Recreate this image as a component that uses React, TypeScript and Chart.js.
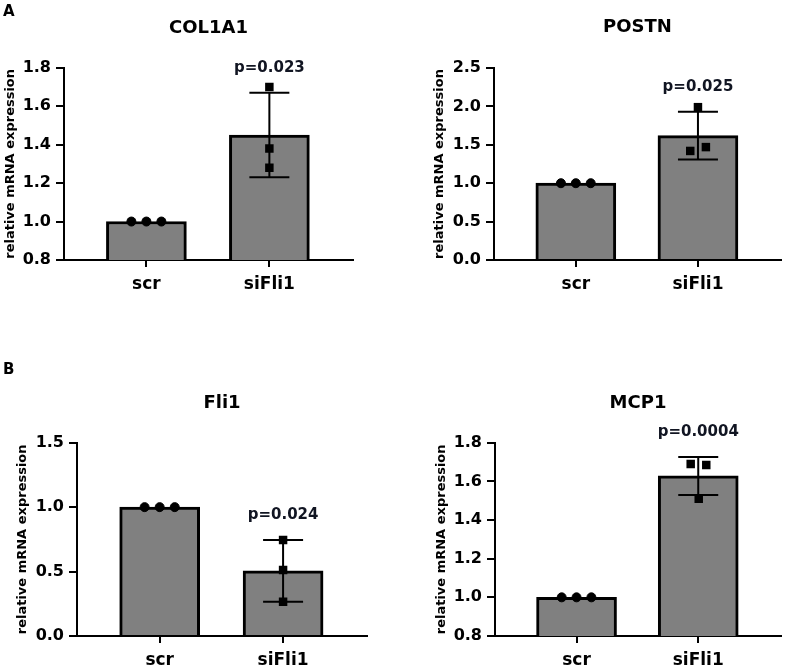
import React, { useEffect, useRef } from 'react';
import { Chart, registerables } from 'chart.js';

Chart.register(...registerables);

// ---------- data ----------
const categories = ['scr', 'siFli1'];
const scrJitter = [-0.122, 0, 0.122];

// COL1A1
const col1a1Means = [1.0, 1.45];
const col1a1Sd = [0, 0.22];
const col1a1Scr = [1.0, 1.0, 1.0];
const col1a1Si = [1.70, 1.38, 1.28];
const col1a1SiJitter = [0, 0, 0];
const col1a1YAxis = [0.8, 1.8, 0.2];
const col1a1P = 'p=0.023';

// POSTN
const postnMeans = [1.0, 1.62];
const postnSd = [0, 0.31];
const postnScr = [1.0, 1.0, 1.0];
const postnSi = [1.99, 1.42, 1.47];
const postnSiJitter = [0, -0.063, 0.065];
const postnYAxis = [0, 2.5, 0.5];
const postnP = 'p=0.025';

// Fli1
const fli1Means = [1.0, 0.505];
const fli1Sd = [0, 0.24];
const fli1Scr = [1.0, 1.0, 1.0];
const fli1Si = [0.745, 0.512, 0.265];
const fli1SiJitter = [0, 0, 0];
const fli1YAxis = [0, 1.5, 0.5];
const fli1P = 'p=0.024';

// MCP1
const mcp1Means = [1.0, 1.628];
const mcp1Sd = [0, 0.098];
const mcp1Scr = [1.0, 1.0, 1.0];
const mcp1Si = [1.69, 1.685, 1.51];
const mcp1SiJitter = [-0.062, 0.066, 0.004];
const mcp1YAxis = [0.8, 1.8, 0.2];
const mcp1P = 'p=0.0004';

const yTitle = 'relative mRNA expression';

// ---------- styles / layout ----------
const FONT = '"DejaVu Sans", "Liberation Sans", Arial, sans-serif';
const X_MIN = -0.67;
const X_MAX = 1.68;

type Panel = {
  title: string;
  means: number[];
  sd: number[];
  scr: number[];
  si: number[];
  siJitter: number[];
  yAxis: number[];
  p: string;
  left: number; top: number; w: number; h: number;
  yW: number; padR: number; titlePT: number; titlePB: number; xH: number; yTitlePad: number;
  letter?: string; letterY?: number;
};

const panels: Panel[] = [
  { title: 'COL1A1', means: col1a1Means, sd: col1a1Sd, scr: col1a1Scr, si: col1a1Si, siJitter: col1a1SiJitter, yAxis: col1a1YAxis, p: col1a1P,
    left: 0, top: 0, w: 394, h: 300, yW: 64, padR: 41, titlePT: 17.2, titlePB: 28.9, xH: 40, yTitlePad: 3, letter: 'A', letterY: 15.5 },
  { title: 'POSTN', means: postnMeans, sd: postnSd, scr: postnScr, si: postnSi, siJitter: postnSiJitter, yAxis: postnYAxis, p: postnP,
    left: 394, top: 0, w: 393, h: 300, yW: 100, padR: 5, titlePT: 16.7, titlePB: 29.7, xH: 40, yTitlePad: 38 },
  { title: 'Fli1', means: fli1Means, sd: fli1Sd, scr: fli1Scr, si: fli1Si, siJitter: fli1SiJitter, yAxis: fli1YAxis, p: fli1P,
    left: 0, top: 320, w: 394, h: 348, yW: 77, padR: 27, titlePT: 72.7, titlePB: 28.4, xH: 32, yTitlePad: 14.7, letter: 'B', letterY: 53.5 },
  { title: 'MCP1', means: mcp1Means, sd: mcp1Sd, scr: mcp1Scr, si: mcp1Si, siJitter: mcp1SiJitter, yAxis: mcp1YAxis, p: mcp1P,
    left: 394, top: 320, w: 393, h: 348, yW: 101, padR: 3, titlePT: 72.2, titlePB: 28.9, xH: 32, yTitlePad: 39.7 },
];

function PanelChart({ panel }: { panel: Panel }) {
  const ref = useRef<HTMLCanvasElement | null>(null);

  useEffect(() => {
    if (!ref.current) return;
    const pnl = panel;

    const overlay = {
      id: 'overlay' + pnl.title,
      afterDatasetDraw(chart: any, args: any) {
        if (args.index !== 0) return;
        const { ctx, scales } = chart;
        const x = scales.x;
        const y = scales.y;
        ctx.save();
        ctx.strokeStyle = '#000';
        ctx.lineWidth = 2;
        pnl.means.forEach((m, i) => {
          const sd = pnl.sd[i];
          if (!sd) return;
          const cx = x.getPixelForValue(i);
          const yt = y.getPixelForValue(m + sd);
          const yb = y.getPixelForValue(m - sd);
          ctx.beginPath();
          ctx.moveTo(cx, yt);
          ctx.lineTo(cx, yb);
          ctx.moveTo(cx - 20, yt);
          ctx.lineTo(cx + 20, yt);
          ctx.moveTo(cx - 20, yb);
          ctx.lineTo(cx + 20, yb);
          ctx.stroke();
        });
        ctx.restore();
      },
      afterDraw(chart: any) {
        const { ctx, scales } = chart;
        const x = scales.x;
        const y = scales.y;
        ctx.save();
        ctx.fillStyle = '#111522';
        ctx.font = `bold 15px ${FONT}`;
        ctx.textAlign = 'center';
        ctx.textBaseline = 'middle';
        const top = y.getPixelForValue(pnl.means[1] + pnl.sd[1]);
        ctx.fillText(pnl.p, x.getPixelForValue(1), top - 25);
        if (pnl.letter) {
          ctx.fillStyle = '#000';
          ctx.font = `bold 15px ${FONT}`;
          ctx.textAlign = 'left';
          ctx.textBaseline = 'alphabetic';
          ctx.fillText(pnl.letter, 3, pnl.letterY);
        }
        ctx.restore();
      },
    };

    const chart = new Chart(ref.current, {
      type: 'bar',
      data: {
        datasets: [
          {
            type: 'bar',
            data: pnl.means.map((m, i) => ({ x: i, y: m })),
            barThickness: 80,
            backgroundColor: '#808080',
            borderColor: '#000',
            borderWidth: 3,
            borderSkipped: 'bottom',
            order: 3,
          } as any,
          {
            type: 'scatter',
            data: pnl.scr.map((v, k) => ({ x: 0 + scrJitter[k], y: v })),
            pointStyle: 'circle',
            pointRadius: 4.5,
            pointBackgroundColor: '#000',
            pointBorderColor: '#000',
            pointBorderWidth: 1,
            order: 2,
          } as any,
          {
            type: 'scatter',
            data: pnl.si.map((v, k) => ({ x: 1 + pnl.siJitter[k], y: v })),
            pointStyle: 'rect',
            pointRadius: 6,
            pointBackgroundColor: '#000',
            pointBorderColor: '#000',
            pointBorderWidth: 0,
            order: 1,
          } as any,
        ],
      },
      options: {
        animation: false,
        responsive: false,
        maintainAspectRatio: false,
        events: [],
        layout: { padding: { left: 0, right: pnl.padR, top: 0, bottom: 0 } },
        plugins: {
          legend: { display: false },
          tooltip: { enabled: false },
          title: {
            display: true,
            text: pnl.title,
            fullSize: false,
            color: '#000',
            font: { family: FONT, size: 18, weight: 'bold' },
            padding: { top: pnl.titlePT, bottom: pnl.titlePB },
          },
        },
        scales: {
          x: {
            type: 'linear',
            min: X_MIN,
            max: X_MAX,
            offset: false,
            afterBuildTicks: (s: any) => {
              s.ticks = categories.map((_, i) => ({ value: i }));
            },
            ticks: {
              callback: (v: any) => categories[v] ?? '',
              color: '#000',
              font: { family: FONT, size: 17, weight: 'bold' },
              padding: 7,
              autoSkip: false,
              maxRotation: 0,
            },
            grid: { drawOnChartArea: false, drawTicks: true, tickLength: 7, color: '#000', lineWidth: 2, offset: false },
            border: { display: true, color: '#000', width: 2 },
            afterFit: (s: any) => {
              s.height = pnl.xH;
            },
          },
          y: {
            type: 'linear',
            min: pnl.yAxis[0],
            max: pnl.yAxis[1],
            ticks: {
              stepSize: pnl.yAxis[2],
              callback: (v: any) => Number(v).toFixed(1),
              color: '#000',
              font: { family: FONT, size: 16, weight: 'bold' },
              padding: 5,
            },
            grid: { drawOnChartArea: false, drawTicks: true, tickLength: 8, color: '#000', lineWidth: 2 },
            border: { display: true, color: '#000', width: 2 },
            title: {
              display: true,
              text: yTitle,
              color: '#000',
              font: { family: FONT, size: 13, weight: 'bold' },
              padding: { top: pnl.yTitlePad, bottom: 0 },
            },
            afterFit: (s: any) => {
              s.width = pnl.yW;
            },
          },
        },
      } as any,
      plugins: [overlay],
    });

    return () => chart.destroy();
  }, [panel]);

  return (
    <canvas
      ref={ref}
      width={panel.w}
      height={panel.h}
      style={{ position: 'absolute', left: panel.left, top: panel.top, width: panel.w, height: panel.h }}
    />
  );
}

export default function App() {
  return (
    <div style={{ position: 'absolute', left: 0, top: 0, width: 787, height: 668, background: '#fff' }}>
      {panels.map((p) => (
        <PanelChart key={p.title} panel={p} />
      ))}
    </div>
  );
}
